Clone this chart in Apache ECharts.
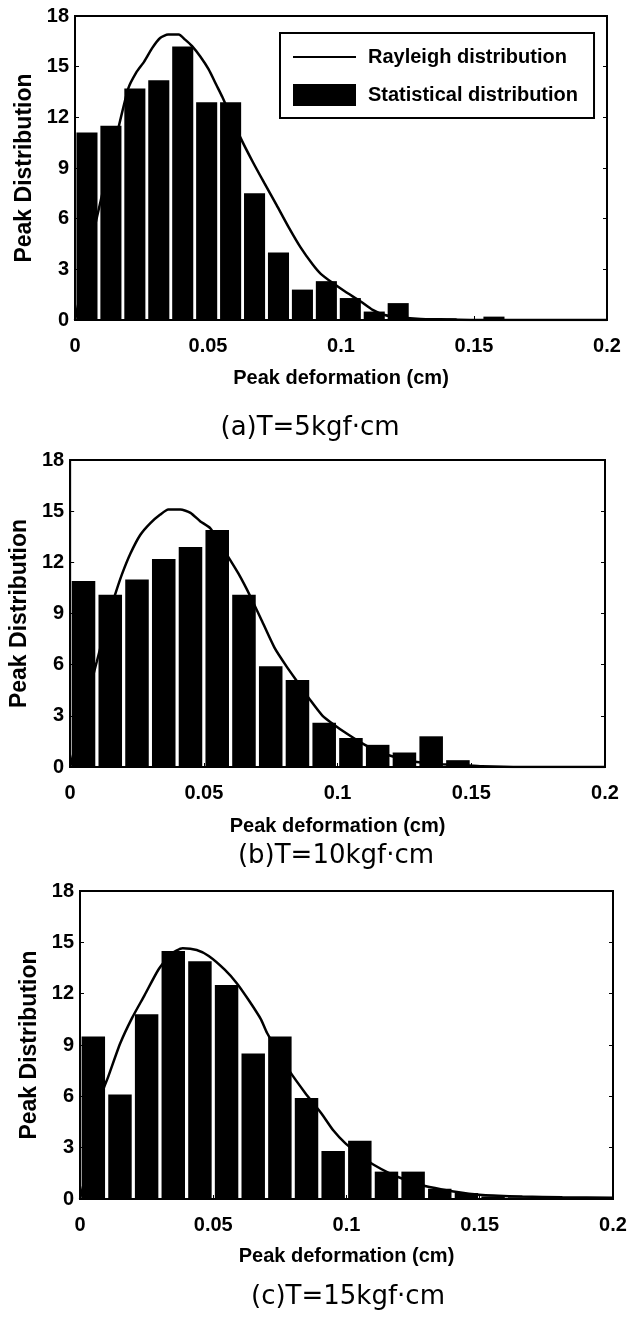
<!DOCTYPE html>
<html><head><meta charset="utf-8">
<script src="https://cdn.jsdelivr.net/npm/echarts@6/dist/echarts.min.js"></script>
<style>html,body{margin:0;padding:0;background:#fff}#c{width:630px;height:1325px}</style>
</head><body><div id="c"></div><script>
// ---- data ----
var xTicks = [0, 0.05, 0.1, 0.15, 0.2];
var yTicks = [0, 3, 6, 9, 12, 15, 18];
var binCentersA = [0.0045,0.0135,0.0225,0.0315,0.0405,0.0495,0.0585,0.0675,0.0765,0.0855,0.0945,0.1035,0.1125,0.1215,0.1305,0.1395,0.1485,0.1575,0.1665,0.1755,0.1845,0.1935];
var statA = [11.1,11.5,13.7,14.2,16.2,12.9,12.9,7.5,4.0,1.8,2.3,1.3,0.5,1.0,0.1,0.1,0.05,0.2,0.05,0.05,0,0];
var binCentersBC = [0.005,0.015,0.025,0.035,0.045,0.055,0.065,0.075,0.085,0.095,0.105,0.115,0.125,0.135,0.145,0.155,0.165,0.175,0.185,0.195];
var statB = [10.9,10.1,11.0,12.2,12.9,13.9,10.1,5.9,5.1,2.6,1.7,1.3,0.85,1.8,0.4,0.05,0.05,0,0,0];
var statC = [9.5,6.1,10.8,14.5,13.9,12.5,8.5,9.5,5.9,2.8,3.4,1.6,1.6,0.6,0.35,0.15,0.1,0.1,0.1,0.1];
var rayAx = [0,0.005,0.01,0.015,0.020,0.023,0.026,0.029,0.032,0.035,0.039,0.0414,0.0441,0.0471,0.0502,0.0532,0.0554,0.0622,0.0667,0.0712,0.0758,0.0803,0.0848,0.0893,0.0923,0.0968,0.1014,0.1074,0.1119,0.1164,0.1224,0.13,0.1375,0.15,0.2];
var rayAy = [0,3.8,7.3,10.5,13.7,14.65,15.3,16.1,16.7,16.9,16.9,16.6,16.2,15.6,14.85,13.9,13.2,10.8,9.4,8.1,6.8,5.5,4.3,3.3,2.75,2.2,1.7,1.1,0.6,0.3,0.15,0.06,0.04,0,0];
var rayBx = [0,0.005,0.01,0.015,0.0172,0.0195,0.0225,0.0262,0.03,0.0337,0.0367,0.0412,0.045,0.0487,0.0524,0.0584,0.0629,0.0674,0.0719,0.0764,0.0809,0.0854,0.0899,0.0944,0.0989,0.1034,0.1094,0.1154,0.1213,0.1273,0.1333,0.1393,0.147,0.154,0.169,0.2];
var rayBy = [0,3.2,6.2,9.2,10.3,11.35,12.5,13.6,14.3,14.8,15.1,15.1,14.9,14.4,14.0,12.5,11.35,10.0,8.5,7.0,5.9,4.9,3.9,3.0,2.45,1.96,1.37,0.88,0.59,0.35,0.23,0.16,0.1,0.04,0,0];
var rayCx = [0,0.004,0.0083,0.0106,0.0151,0.0196,0.0242,0.0294,0.034,0.0385,0.0438,0.0483,0.0543,0.0589,0.0634,0.0679,0.0702,0.0755,0.0785,0.0845,0.0906,0.0951,0.0996,0.1057,0.1102,0.1162,0.1208,0.1283,0.1358,0.1434,0.151,0.166,0.181,0.2];
var rayCy = [0,2.6,6.2,7.15,9.1,10.6,11.9,13.4,14.3,14.65,14.55,14.2,13.4,12.6,11.6,10.5,9.7,8.3,7.5,6.2,5.0,4.0,3.25,2.5,2.0,1.5,1.2,0.8,0.56,0.37,0.23,0.14,0.1,0.08];
var captions = ['(a)T=5kgf\u00b7cm', '(b)T=10kgf\u00b7cm', '(c)T=15kgf\u00b7cm'];
var lineName = 'Rayleigh distribution';
var barName = 'Statistical distribution';
var xName = 'Peak deformation (cm)';
var yName = 'Peak Distribution';

// ---- layout ----
var F = "'Liberation Sans', Arial, sans-serif";
var grids = [
  {left: 75, top: 16, width: 532, height: 304},
  {left: 68, top: 460, width: 537, height: 307},
  {left: 80, top: 891, width: 533, height: 308}
];
var capPos = [[310, 428], [336, 856], [348, 1297]];
var xNameGap = [48, 49, 47];
var panels = [
  {c: binCentersA, v: statA, lx: rayAx, ly: rayAy},
  {c: binCentersBC, v: statB, lx: rayBx, ly: rayBy},
  {c: binCentersBC, v: statC, lx: rayCx, ly: rayCy}
];

var option = {
  backgroundColor: '#fff',
  animation: false,
  grid: [], xAxis: [], yAxis: [], series: [], graphic: [],
  legend: {
    data: [
      {name: lineName, itemStyle: {opacity: 0}},
      {name: barName, icon: 'rect'}
    ],
    left: 280, top: 33, orient: 'vertical',
    padding: [14, 16, 12, 12],
    itemWidth: 63, itemHeight: 22, itemGap: 17,
    borderColor: '#000', borderWidth: 2, backgroundColor: '#fff',
    selectedMode: false,
    textStyle: {fontFamily: F, fontSize: 20, fontWeight: 'bold', color: '#000', padding: [0, 0, 0, 7]}
  }
};

grids.forEach(function (g, i) {
  option.grid.push({left: g.left, top: g.top, width: g.width, height: g.height,
    show: true, borderColor: '#000', borderWidth: 2, backgroundColor: 'transparent'});
  option.xAxis.push({
    type: 'value', gridIndex: i, min: xTicks[0], max: xTicks[xTicks.length - 1], interval: 0.05,
    name: xName, nameLocation: 'middle', nameGap: xNameGap[i],
    nameTextStyle: {fontFamily: F, fontSize: 20, fontWeight: 'bold', color: '#000'},
    axisLine: {lineStyle: {color: '#000', width: 2}},
    axisTick: {inside: true, length: 4, lineStyle: {color: '#000'}},
    axisLabel: {fontFamily: F, fontSize: 20, fontWeight: 'bold', color: '#000', margin: 16,
      formatter: function (v) { return String(+v.toFixed(2)); }},
    splitLine: {show: false}
  });
  option.yAxis.push({
    type: 'value', gridIndex: i, min: yTicks[0], max: yTicks[yTicks.length - 1], interval: 3,
    name: yName, nameLocation: 'middle', nameGap: 30,
    nameTextStyle: {fontFamily: F, fontSize: 23, fontWeight: 'bold', color: '#000'},
    axisLine: {show: true, lineStyle: {color: '#000', width: 2}},
    axisTick: {show: true, inside: true, length: 4, lineStyle: {color: '#000'}},
    axisLabel: {fontFamily: F, fontSize: 20, fontWeight: 'bold', color: '#000', margin: 6},
    splitLine: {show: false}
  });
  option.yAxis.push({
    type: 'value', gridIndex: i, position: 'right', min: 0, max: 18, interval: 3,
    axisLine: {show: true, lineStyle: {color: '#000', width: 2}},
    axisTick: {show: true, inside: true, length: 4, lineStyle: {color: '#000'}},
    axisLabel: {show: false}, splitLine: {show: false}
  });
  var p = panels[i];
  option.series.push({
    type: 'bar', name: barName, xAxisIndex: i, yAxisIndex: i * 2,
    data: p.c.map(function (x, k) { return [x, p.v[k]]; }),
    barWidth: '88%', itemStyle: {color: '#000'}, z: 2
  });
  option.series.push({
    type: 'line', name: lineName, xAxisIndex: i, yAxisIndex: i * 2,
    data: p.lx.map(function (x, k) { return [x, p.ly[k]]; }),
    symbol: 'none', showSymbol: false, smooth: 0.2,
    lineStyle: {color: '#000', width: 2.5}, itemStyle: {color: '#000', opacity: 0}, z: 3
  });
  option.graphic.push({
    type: 'text', x: capPos[i][0], y: capPos[i][1],
    style: {text: captions[i], fill: '#000', font: "26px 'DejaVu Sans', sans-serif",
      textAlign: 'center', textVerticalAlign: 'middle'}
  });
});

var chart = echarts.init(document.getElementById('c'), null, {renderer: 'canvas'});
chart.setOption(option);
</script></body></html>
